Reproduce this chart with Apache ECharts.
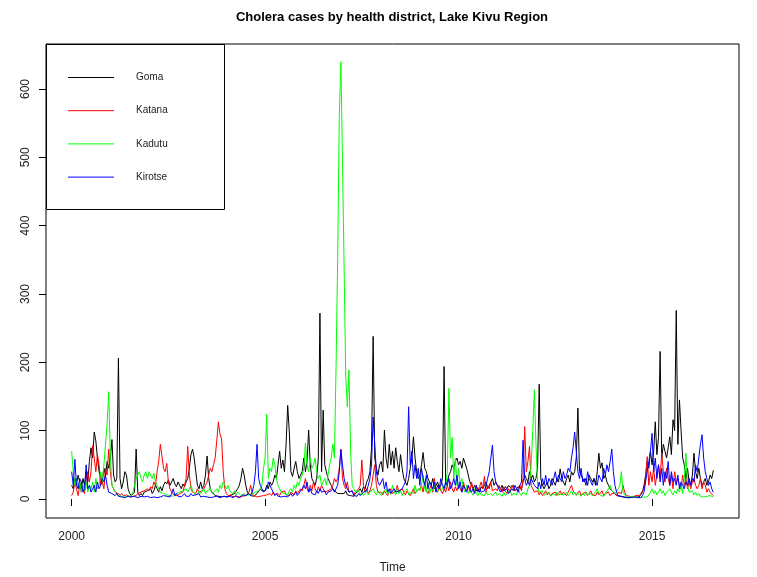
<!DOCTYPE html>
<html><head><meta charset="utf-8">
<script src="https://cdn.jsdelivr.net/npm/echarts@6/dist/echarts.min.js"></script>
<style>html,body{margin:0;padding:0;background:#fff}#c{width:757px;height:577px}</style>
</head><body><div id="c"></div>
<script>
// Semi-monthly samples (24 per year) starting at 2000.0
const startYear = 2000;
const perYear = 24;
const seriesNames = ['Goma', 'Katana', 'Kadutu', 'Kirotse'];
const seriesColors = ['#000000', '#ff0000', '#00ff00', '#0000ff'];
const xTicks = [2000, 2005, 2010, 2015];
const yTicks = [0, 100, 200, 300, 400, 500, 600];

const goma = [
20,15,30,20,35,25,15,30,20,40,25,55,75,60,98,85,60,40,30,25,45,35,55,45,
60,87,35,25,30,206,30,15,25,40,35,15,8,5,5,10,73,10,5,8,5,10,8,12,
10,15,8,12,20,15,10,18,12,20,25,22,28,20,25,30,22,18,25,20,15,22,18,25,
30,45,65,73,60,40,20,15,25,15,20,35,63,30,15,10,8,5,5,4,5,3,5,4,
5,3,4,6,5,8,10,15,20,30,45,35,20,10,8,5,6,4,5,8,10,15,12,10,
12,20,15,25,20,25,35,30,50,70,45,57,40,80,137,98,40,33,45,55,40,30,35,40,
60,40,55,101,50,30,25,20,30,60,272,40,130,50,40,30,25,20,15,12,10,8,10,8,
10,8,12,6,8,5,6,4,8,10,12,15,10,18,15,25,30,40,75,238,60,45,35,50,
55,40,101,60,45,80,50,70,45,75,55,40,65,45,30,25,20,30,45,60,91,60,40,30,
35,50,68,45,40,30,25,20,30,15,20,25,15,20,30,194,20,25,35,40,50,45,55,60,
50,55,45,60,62,45,35,25,20,15,20,12,15,10,18,15,20,25,15,20,25,30,20,25,
20,18,15,20,12,18,15,20,17,15,20,12,15,18,20,15,25,35,30,25,40,30,35,25,
30,45,168,30,20,15,20,25,15,20,30,25,20,30,25,44,30,25,20,30,35,25,40,35,
40,60,133,40,35,30,25,30,20,35,30,25,30,20,40,67,45,53,30,35,25,20,15,12,
10,8,5,6,4,5,3,4,2,3,2,4,3,2,3,4,3,5,10,20,35,55,45,70,
50,70,113,65,90,216,60,80,70,60,75,91,65,116,100,276,80,145,100,60,50,30,45,25,
20,35,67,40,30,45,30,20,25,30,20,25,35,30,42
];
const katana = [
5,10,25,15,5,20,10,15,8,30,40,25,40,78,60,40,65,50,20,25,15,45,35,73,
40,20,15,10,12,8,5,8,5,4,6,5,3,5,4,6,5,8,6,10,8,12,10,15,
12,18,15,25,20,40,55,80,78,45,40,52,25,15,10,8,5,7,5,8,6,10,12,30,
77,35,15,10,12,8,15,10,8,12,15,20,25,35,45,40,50,60,85,113,95,88,40,15,
8,5,4,6,3,5,4,6,3,5,4,3,5,6,10,20,8,5,4,3,5,4,6,5,
4,6,5,8,5,10,6,4,8,5,10,8,12,6,8,5,10,8,6,12,8,10,15,12,
20,30,15,10,20,12,25,15,10,18,12,20,15,10,8,12,10,15,20,30,25,30,45,73,
30,20,15,25,10,8,12,6,10,8,15,20,57,20,10,15,8,12,20,35,50,20,10,8,
10,6,12,8,5,10,15,8,6,12,20,10,8,15,10,6,12,8,5,10,15,8,12,10,
15,20,10,25,12,8,15,20,10,30,15,10,20,12,8,15,10,20,12,25,15,10,18,12,
20,15,10,25,15,12,20,10,25,15,10,20,12,18,25,15,33,10,20,15,25,12,10,15,
12,20,15,10,18,12,8,15,10,20,15,12,10,15,20,12,30,106,40,55,77,20,15,10,
8,12,6,10,5,8,12,6,10,5,8,6,10,5,8,12,6,10,8,5,10,15,20,12,
10,6,8,12,5,8,6,10,5,8,12,6,8,5,10,6,8,12,5,8,6,10,5,8,
6,8,5,10,12,8,20,10,5,6,4,5,3,4,5,3,5,8,8,15,30,62,20,40,
25,45,20,35,50,30,67,40,25,45,30,20,35,15,40,25,30,20,15,35,20,30,15,25,
15,25,30,20,15,20,30,15,25,20,10,15,10,8,5
];
const kadutu = [
70,40,20,30,15,25,10,20,12,25,10,20,15,25,10,30,15,20,40,25,50,80,110,157,
60,20,15,10,8,5,6,4,5,3,5,4,6,5,10,20,30,35,40,30,25,35,40,30,
40,35,30,38,25,20,15,10,12,8,10,6,8,5,6,4,5,8,6,10,8,12,10,15,
10,15,20,12,8,10,6,12,8,10,15,8,12,10,15,8,10,12,15,10,20,15,25,20,
15,20,12,10,8,12,6,10,8,5,6,8,5,4,6,5,8,6,10,8,12,15,20,45,
60,124,30,45,40,60,50,30,20,15,10,12,8,10,6,12,15,10,20,15,25,20,30,35,
45,82,50,40,60,45,50,60,40,30,35,20,25,30,20,35,50,60,80,60,194,350,560,640,
492,338,180,135,189,72,20,15,10,8,12,6,10,5,8,12,6,10,8,15,10,6,12,8,
5,10,8,15,6,12,8,20,10,6,15,8,12,5,10,8,15,6,10,12,8,20,10,15,
12,20,35,15,10,25,8,15,12,20,10,8,15,12,10,20,15,40,162,60,90,30,60,20,
45,20,30,15,10,20,8,12,10,6,15,8,5,10,6,8,5,10,6,4,8,5,6,10,
5,8,6,4,10,5,8,6,12,5,8,10,6,15,8,5,10,8,6,15,20,50,100,160,
80,20,10,8,12,5,8,6,10,4,6,8,5,10,6,4,8,5,6,10,5,8,12,6,
10,5,8,6,4,8,5,10,6,4,8,5,6,10,15,8,5,6,4,8,10,15,20,12,
10,8,6,15,20,40,10,6,4,3,2,3,2,4,3,2,3,2,4,3,5,3,6,10,
15,8,12,6,10,15,8,12,5,10,8,15,10,6,12,8,15,10,20,8,30,67,20,10,
8,12,6,10,5,8,4,6,3,5,4,3,5,4,3
];
const kirotse = [
40,20,58,20,15,30,25,10,15,50,15,20,10,15,20,10,25,15,20,30,25,35,20,10,
12,8,6,5,8,4,5,3,4,2,3,4,2,3,2,4,3,2,3,4,2,3,2,4,
3,2,4,3,5,2,4,3,2,5,3,4,6,3,8,15,5,8,4,6,3,5,8,4,
6,4,8,5,3,6,4,8,3,5,4,6,3,5,2,4,3,2,4,3,2,3,4,2,
3,2,4,3,2,3,5,2,4,3,6,4,5,3,8,5,10,20,40,80,30,20,15,10,
10,15,25,20,15,10,5,8,4,6,3,5,4,6,3,5,8,4,6,10,5,8,12,15,
20,15,25,10,15,8,10,6,12,8,15,10,8,12,6,10,8,12,15,10,12,20,40,72,
50,30,20,15,10,8,12,5,6,4,8,5,6,10,8,12,20,30,50,120,80,40,25,20,
20,30,15,25,10,15,8,12,15,10,8,12,10,15,20,25,40,135,50,70,30,50,30,45,
20,45,30,20,35,15,25,20,15,25,10,20,15,30,20,15,25,20,30,15,20,30,20,35,
15,25,10,20,15,10,20,15,10,15,8,20,10,15,10,8,12,20,30,40,60,79,40,25,
20,15,10,15,12,10,15,8,10,15,12,20,15,10,20,25,86,30,20,25,20,30,25,20,
20,15,25,15,30,20,35,20,30,25,20,30,40,25,35,30,25,40,30,35,45,40,60,75,
98,70,40,30,45,25,30,20,40,30,25,20,30,25,20,35,30,25,45,35,50,40,55,73,
40,20,10,5,3,4,2,3,2,2,3,2,2,3,2,2,3,2,5,10,25,40,55,70,
96,40,60,30,50,25,45,20,40,30,55,20,40,25,30,20,35,15,25,20,15,25,20,30,
20,30,25,50,40,60,80,94,60,40,30,20,25,15,10
];
const allValues = [goma, katana, kadutu, kirotse];

const toPairs = arr => arr.map((v, i) => [startYear + i / perYear, v]);

const chart = echarts.init(document.getElementById('c'), null, {renderer: 'canvas'});
const FONT = 'Liberation Sans, Arial, sans-serif';

const legendGraphics = [{
  type: 'rect', shape: {x: 46.5, y: 44.5, width: 178, height: 165},
  style: {fill: '#fff', stroke: '#000', lineWidth: 1}, z: 100
}];
seriesNames.forEach((n, i) => {
  const y = 77.5 + i * 33.2;
  legendGraphics.push({type: 'line', shape: {x1: 68, y1: y, x2: 114, y2: y},
    style: {stroke: seriesColors[i], lineWidth: 1}, z: 101});
  legendGraphics.push({type: 'text', x: 136, y: y,
    style: {text: n, fill: '#222', font: '10px ' + FONT, verticalAlign: 'middle', align: 'left'}, z: 101});
});

chart.setOption({
  animation: false,
  backgroundColor: '#fff',
  title: {
    text: 'Cholera cases by health district, Lake Kivu Region',
    left: 392, top: 11, padding: 0, textAlign: 'center',
    textStyle: {fontFamily: FONT, fontSize: 13, fontWeight: 'bold', color: '#000'}
  },
  grid: {left: 46, right: 18, top: 44, bottom: 59, show: true, borderColor: '#000', borderWidth: 1,
         backgroundColor: 'transparent', outerBoundsMode: 'none', containLabel: false},
  xAxis: {
    type: 'value', min: 1999.337, max: 2017.247,
    name: 'Time', nameLocation: 'middle', nameGap: 44,
    nameTextStyle: {fontFamily: FONT, fontSize: 12, color: '#222'},
    axisLine: {show: false},
    axisTick: {show: true, length: 7, customValues: xTicks, lineStyle: {color: '#000', width: 1}},
    axisLabel: {customValues: xTicks, margin: 13, fontFamily: FONT, fontSize: 12, color: '#222',
                formatter: v => String(v)},
    splitLine: {show: false}
  },
  yAxis: {
    type: 'value', min: -27.8, max: 665.9,
    axisLine: {show: false},
    axisTick: {show: true, length: 7, customValues: yTicks, lineStyle: {color: '#000', width: 1}},
    axisLabel: {customValues: yTicks, rotate: 90, margin: 14, fontFamily: FONT, fontSize: 12, color: '#222',
                formatter: v => String(v)},
    splitLine: {show: false}
  },
  series: seriesNames.map((n, i) => ({
    name: n, type: 'line', data: toPairs(allValues[i]),
    showSymbol: false, symbol: 'none', silent: true,
    lineStyle: {color: seriesColors[i], width: 1},
    itemStyle: {color: seriesColors[i]},
    emphasis: {disabled: true}
  })),
  graphic: legendGraphics
});
</script>
</body></html>
